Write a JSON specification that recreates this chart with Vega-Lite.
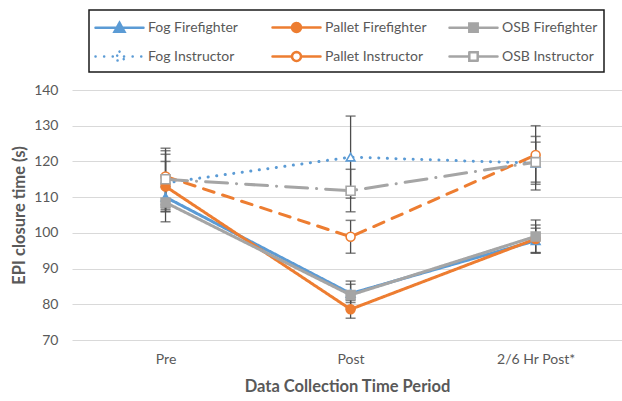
{
  "$schema": "https://vega.github.io/schema/vega-lite/v6.json",
  "autosize": "none",
  "width": 550,
  "height": 250,
  "padding": {"left": 72, "top": 90, "right": 0, "bottom": 61},
  "background": "white",
  "config": {
    "view": {"stroke": null},
    "font": "Lato",
    "axisY": {
      "tickCount": 8, "ticks": false, "domain": false, "gridColor": "#d9d9d9", "gridWidth": 1.2,
      "labelFont": "Lato", "labelFontSize": 14, "labelColor": "#595959", "labelPadding": 14,
      "titleFont": "Lato", "titleFontSize": 16.5, "titleFontWeight": "bold", "titleColor": "#595959", "titlePadding": 6
    }
  },
  "data": {
    "values": [
      {"period": "Pre", "series": "Fog Firefighter", "value": 110, "lo": 106.5, "hi": 113.5},
      {"period": "Pre", "series": "Pallet Firefighter", "value": 113, "lo": 105.9, "hi": 120},
      {"period": "Pre", "series": "OSB Firefighter", "value": 108.5, "lo": 103.1, "hi": 113.9},
      {"period": "Pre", "series": "Fog Instructor", "value": 114, "lo": 106, "hi": 122},
      {"period": "Pre", "series": "Pallet Instructor", "value": 115.8, "lo": 107.9, "hi": 123.7},
      {"period": "Pre", "series": "OSB Instructor", "value": 115, "lo": 107, "hi": 123},
      {"period": "Post", "series": "Fog Firefighter", "value": 83, "lo": 80.5, "hi": 85.6},
      {"period": "Post", "series": "Pallet Firefighter", "value": 78.6, "lo": 76.1, "hi": 81.1},
      {"period": "Post", "series": "OSB Firefighter", "value": 82.6, "lo": 78.7, "hi": 86.5},
      {"period": "Post", "series": "Fog Instructor", "value": 121.2, "lo": 109.7, "hi": 132.7},
      {"period": "Post", "series": "Pallet Instructor", "value": 98.9, "lo": 94.3, "hi": 103.5},
      {"period": "Post", "series": "OSB Instructor", "value": 111.8, "lo": 105.9, "hi": 117.8},
      {"period": "2/6 Hr Post*", "series": "Fog Firefighter", "value": 97.8, "lo": 94.3, "hi": 101.3},
      {"period": "2/6 Hr Post*", "series": "Pallet Firefighter", "value": 98.3, "lo": 94.5, "hi": 102.2},
      {"period": "2/6 Hr Post*", "series": "OSB Firefighter", "value": 99, "lo": 94.4, "hi": 103.6},
      {"period": "2/6 Hr Post*", "series": "Fog Instructor", "value": 119.5, "lo": 112, "hi": 127},
      {"period": "2/6 Hr Post*", "series": "Pallet Instructor", "value": 121.8, "lo": 113.6, "hi": 130},
      {"period": "2/6 Hr Post*", "series": "OSB Instructor", "value": 119.8, "lo": 114.2, "hi": 125.4}
    ]
  },
  "encoding": {
    "x": {
      "field": "period", "type": "nominal", "sort": ["Pre", "Post", "2/6 Hr Post*"],
      "scale": {"type": "point", "padding": 0.486, "align": 0.52},
      "axis": {
        "title": "Data Collection Time Period", "labelAngle": 0, "ticks": false, "domain": false,
        "labelFont": "Lato", "labelFontSize": 14, "labelColor": "#595959", "labelPadding": 12,
        "titleFont": "Lato", "titleFontSize": 16.5, "titleFontWeight": "bold", "titleColor": "#595959", "titlePadding": 12
      }
    },
    "y": {
      "field": "value", "type": "quantitative",
      "scale": {"domain": [70, 140], "nice": false, "zero": false},
      "title": "EPI closure time (s)"
    }
  },
  "layer": [
    {
      "mark": {"type": "rule", "color": "#4d4d4d", "strokeWidth": 1.3},
      "encoding": {
        "y": {"field": "lo", "type": "quantitative", "title": "EPI closure time (s)"},
        "y2": {"field": "hi"}
      }
    },
    {
      "mark": {"type": "tick", "color": "#4d4d4d", "thickness": 1.5, "size": 10, "orient": "horizontal"},
      "encoding": {"y": {"field": "lo", "type": "quantitative", "title": "EPI closure time (s)"}}
    },
    {
      "mark": {"type": "tick", "color": "#4d4d4d", "thickness": 1.5, "size": 10, "orient": "horizontal"},
      "encoding": {"y": {"field": "hi", "type": "quantitative", "title": "EPI closure time (s)"}}
    },
    {
      "mark": {"type": "line", "strokeWidth": 3, "strokeCap": "round"},
      "encoding": {
        "color": {
          "field": "series", "type": "nominal",
          "sort": ["Fog Firefighter", "Pallet Firefighter", "OSB Firefighter", "Fog Instructor", "Pallet Instructor", "OSB Instructor"],
          "scale": {
            "domain": ["Fog Firefighter", "Pallet Firefighter", "OSB Firefighter", "Fog Instructor", "Pallet Instructor", "OSB Instructor"],
            "range": ["#5B9BD5", "#ED7D31", "#A5A5A5", "#5B9BD5", "#ED7D31", "#A5A5A5"]
          },
          "legend": {
            "title": null, "orient": "none", "legendX": 17, "legendY": -80, "direction": "horizontal",
            "columns": 3, "gridAlign": "all", "columnPadding": 17, "rowPadding": 8,
            "padding": 6, "strokeColor": "#1a1a1a", "fillColor": "white",
            "labelFont": "Lato", "labelFontSize": 14, "labelColor": "#595959", "labelOffset": 30, "labelLimit": 200,
            "symbolSize": 400, "symbolStrokeWidth": 2.5,
            "encode": {
              "legend": {"update": {"strokeWidth": {"value": 1.5}}},
              "symbols": {
                "update": {
                  "shape": {"signal": "datum.value === 'Fog Firefighter' ? 'M-1.1 0H3.7M1.3 -0.5L1.8 0.4L0.8 0.4Z' : datum.value === 'Pallet Firefighter' ? 'M-1.1 0H3.7M1.75 0L1.7157 0.1722L1.6182 0.3182L1.4722 0.4157L1.3 0.45L1.1278 0.4157L0.9818 0.3182L0.8843 0.1722L0.85 0L0.8843 -0.1722L0.9818 -0.3182L1.1278 -0.4157L1.3 -0.45L1.4722 -0.4157L1.6182 -0.3182L1.7157 -0.1722Z' : datum.value === 'OSB Firefighter' ? 'M-1.1 0H3.7M0.88 -0.42H1.72V0.42H0.88Z' : datum.value === 'Fog Instructor' ? 'M-1.1 0H0.85M1.75 0H3.7M1.3 -0.5L1.8 0.4L0.8 0.4Z' : datum.value === 'Pallet Instructor' ? 'M-1.1 0H-0.125M-0.125 0H0.85M1.75 0H2.725M2.725 0H3.7M1.75 0L1.7157 0.1722L1.6182 0.3182L1.4722 0.4157L1.3 0.45M1.3 0.45L1.1278 0.4157L0.9818 0.3182L0.8843 0.1722L0.85 0M0.85 0L0.8843 -0.1722L0.9818 -0.3182L1.1278 -0.4157L1.3 -0.45M1.3 -0.45L1.4722 -0.4157L1.6182 -0.3182L1.7157 -0.1722L1.75 0' : 'M-1.1 0H0.88M1.72 0H3.7M0.88 -0.42H1.72V0.42M1.72 0.42H0.88V-0.42'"},
                  "fill": {"signal": "datum.value === 'Fog Firefighter' ? '#5B9BD5' : datum.value === 'Pallet Firefighter' ? '#ED7D31' : datum.value === 'OSB Firefighter' ? '#A5A5A5' : 'white'"},
                  "strokeDash": {"signal": "datum.value === 'Fog Instructor' ? [0.1, 6] : [1, 0]"},
                  "strokeCap": {"value": "round"},
                  "strokeWidth": {"value": 2.5}
                }
              }
            }
          }
        },
        "strokeDash": {
          "field": "series", "type": "nominal",
          "scale": {
            "domain": ["Fog Firefighter", "Pallet Firefighter", "OSB Firefighter", "Fog Instructor", "Pallet Instructor", "OSB Instructor"],
            "range": [[1, 0], [1, 0], [1, 0], [0.1, 8.5], [11, 9], [22, 9, 0.1, 9]]
          },
          "legend": null
        }
      }
    },
    {
      "transform": [{"filter": {"field": "series", "oneOf": ["Fog Firefighter", "Fog Instructor"]}}],
      "mark": {"type": "point", "shape": "triangle-up", "filled": false, "size": 75, "strokeWidth": 1.6, "opacity": 1},
      "encoding": {
        "color": {"field": "series", "type": "nominal"},
        "fill": {
          "field": "series", "type": "nominal",
          "scale": {
            "domain": ["Fog Firefighter", "Pallet Firefighter", "OSB Firefighter", "Fog Instructor", "Pallet Instructor", "OSB Instructor"],
            "range": ["#5B9BD5", "#ED7D31", "#A5A5A5", "white", "white", "white"]
          },
          "legend": null
        }
      }
    },
    {
      "transform": [{"filter": {"field": "series", "oneOf": ["Pallet Firefighter", "Pallet Instructor"]}}],
      "mark": {"type": "point", "shape": "circle", "filled": false, "size": 80, "strokeWidth": 1.6, "opacity": 1},
      "encoding": {
        "color": {"field": "series", "type": "nominal"},
        "fill": {"field": "series", "type": "nominal", "legend": null}
      }
    },
    {
      "transform": [{"filter": {"field": "series", "oneOf": ["OSB Firefighter", "OSB Instructor"]}}],
      "mark": {"type": "point", "shape": "square", "filled": false, "size": 80, "strokeWidth": 1.6, "opacity": 1},
      "encoding": {
        "color": {"field": "series", "type": "nominal"},
        "fill": {"field": "series", "type": "nominal", "legend": null}
      }
    }
  ]
}
